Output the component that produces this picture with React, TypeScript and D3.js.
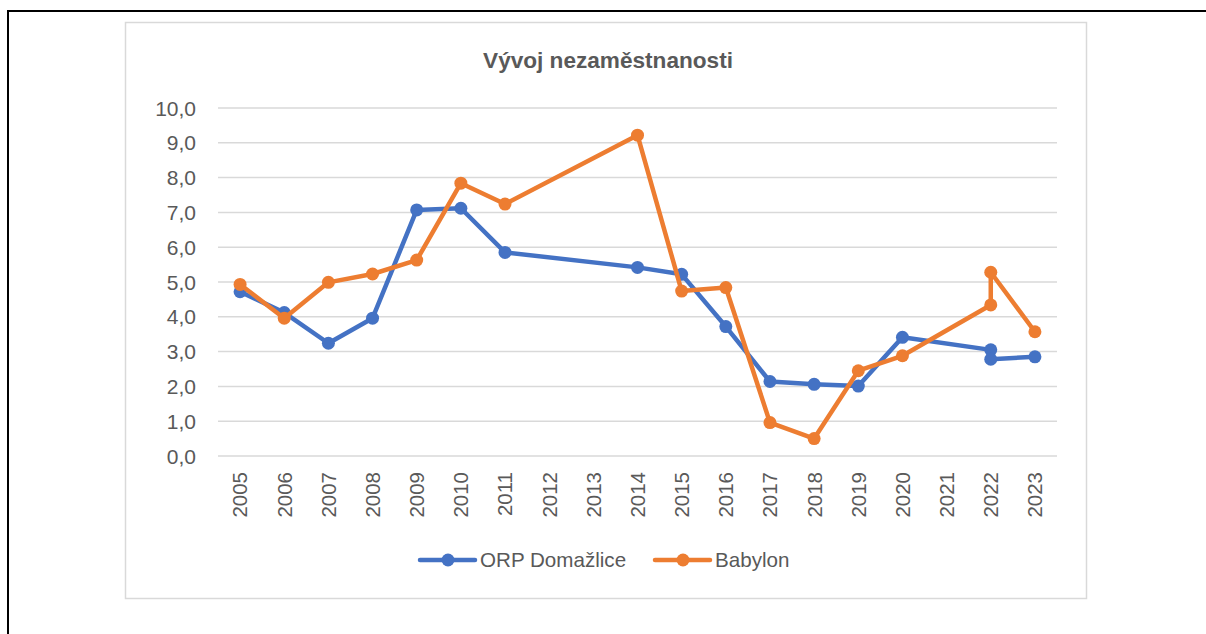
import React from "react";
import * as d3 from "d3";

const categories = ["2005","2006","2007","2008","2009","2010","2011","2012","2013","2014","2015","2016","2017","2018","2019","2020","2021","2022","2023"];
const yTicks = [0,1,2,3,4,5,6,7,8,9,10];

const orpYears = ["2005","2006","2007","2008","2009","2010","2011","2014","2015","2016","2017","2018","2019","2020","2022","2022","2023"];
const orpValues = [4.72,4.12,3.24,3.96,7.07,7.12,5.85,5.42,5.22,3.72,2.14,2.06,2.01,3.41,3.05,2.78,2.85];

const babYears = ["2005","2006","2007","2008","2009","2010","2011","2014","2015","2016","2017","2018","2019","2020","2022","2022","2023"];
const babValues = [4.93,3.96,4.99,5.23,5.63,7.84,7.24,9.22,4.74,4.84,0.96,0.50,2.45,2.88,4.34,5.28,3.57];

const seriesNames = ["ORP Domažlice", "Babylon"];
const colors = ["#4472C4", "#ED7D31"];

const FONT = "'Liberation Sans', Arial, sans-serif";

export default function App() {
  const W = 1206, H = 634;
  const left = 218, right = 1057, top = 108, bottom = 456;
  const x = d3.scaleBand<string>().domain(categories).range([left, right]);
  const y = d3.scaleLinear().domain([0, 10]).range([bottom, top]);
  const cx = (c: string) => (x(c) as number) + x.bandwidth() / 2;

  const series = [
    { name: seriesNames[0], color: colors[0], pts: orpYears.map((c, i) => [cx(c), y(orpValues[i])] as [number, number]) },
    { name: seriesNames[1], color: colors[1], pts: babYears.map((c, i) => [cx(c), y(babValues[i])] as [number, number]) },
  ];
  const line = d3.line<[number, number]>().x(d => d[0]).y(d => d[1]);

  const legendItems = [
    { x0: 420, name: seriesNames[0], color: colors[0] },
    { x0: 655, name: seriesNames[1], color: colors[1] },
  ];

  return (
    <div style={{ position: "absolute", left: 0, top: 0 }}>
      <svg width={W} height={H} style={{ display: "block", background: "#fff" }}>
        <line x1={8} y1={11} x2={W} y2={11} stroke="#000" strokeWidth={2} />
        <line x1={8} y1={10} x2={8} y2={H} stroke="#000" strokeWidth={2} />
        <rect x={125.5} y={22.5} width={961} height={576} fill="#fff" stroke="#D9D9D9" strokeWidth={1.5} />
        <text x={608} y={68} textAnchor="middle" fontFamily={FONT} fontWeight="bold" fontSize={22.6} fill="#595959">Vývoj nezaměstnanosti</text>
        {yTicks.map(t => (
          <line key={t} x1={left} x2={right} y1={y(t)} y2={y(t)} stroke="#D9D9D9" strokeWidth={1.5} />
        ))}
        {yTicks.map(t => (
          <text key={"l" + t} x={196} y={y(t)} dy="0.36em" textAnchor="end" fontFamily={FONT} fontSize={21} fill="#595959">
            {d3.format(".1f")(t).replace(".", ",")}
          </text>
        ))}
        {categories.map(c => (
          <text key={c} transform={`translate(${cx(c)},${472}) rotate(-90)`} textAnchor="end" dy="0.36em" fontFamily={FONT} fontSize={20.5} fill="#595959">{c}</text>
        ))}
        {series.map(s => (
          <g key={s.name}>
            <path d={line(s.pts) || ""} fill="none" stroke={s.color} strokeWidth={4.5} strokeLinejoin="round" strokeLinecap="round" />
            {s.pts.map((p, i) => (
              <circle key={i} cx={p[0]} cy={p[1]} r={6.5} fill={s.color} />
            ))}
          </g>
        ))}
        {legendItems.map(l => (
          <g key={l.name}>
            <line x1={l.x0} x2={l.x0 + 55} y1={560} y2={560} stroke={l.color} strokeWidth={4.5} strokeLinecap="round" />
            <circle cx={l.x0 + 28} cy={560} r={6.5} fill={l.color} />
            <text x={l.x0 + 60} y={560} dy="0.36em" fontFamily={FONT} fontSize={20.6} fill="#595959">{l.name}</text>
          </g>
        ))}
      </svg>
    </div>
  );
}
